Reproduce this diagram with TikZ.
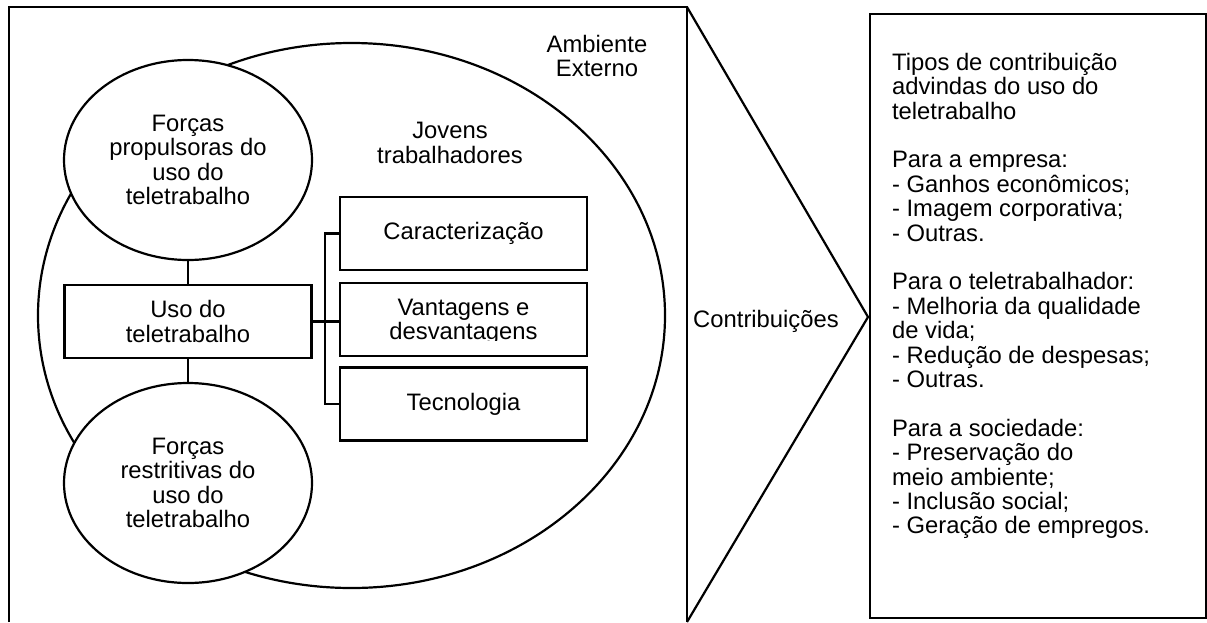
\documentclass[tikz,border=0pt]{standalone}
\usepackage{fontspec}
\setmainfont{Liberation Sans}
\usetikzlibrary{shapes.geometric}
\begin{document}
\begin{tikzpicture}[x=1pt,y=-1pt,
  line width=2.2pt,
  every node/.style={font=\fontsize{23.8}{24.4}\selectfont, inner sep=0pt},
  oval/.style={draw, ellipse, fill=white, minimum width=248pt, minimum height=200pt, align=center},
  box/.style={draw, rectangle, fill=white, minimum width=247pt, minimum height=73pt, align=center},
  caption/.style={align=center}]
\useasboundingbox (0,0) rectangle (1207,622);

% outer frame (open at the bottom) and the arrow head pointing right
\coordinate (fbl) at (9,622);
\coordinate (ftl) at (9,7);
\coordinate (ftr) at (687,7);
\coordinate (fbr) at (687,622);
\coordinate (tip) at (868,317);
\draw (fbl) -- (ftl) -- (ftr) -- (fbr);
\draw (ftr) -- (tip) -- (fbr);

% young workers
\node[draw, ellipse, minimum width=627pt, minimum height=545pt] (jovens) at (351.5,315.5) {};

\node[caption] (amb) at (597,56) {Ambiente\\Externo};
\node[caption] (jovtxt) at (450,143) {Jovens\\trabalhadores};

% forces and use
\node[oval] (prop) at (188,160) {Forças\\propulsoras do\\uso do\\teletrabalho};
\node[oval] (restr) at (188,483) {Forças\\restritivas do\\uso do\\teletrabalho};
\node[box] (uso) at (188,321.5) {Uso do\\teletrabalho};

\draw (prop.south) -- (uso.north);
\draw (uso.south) -- (restr.north);

% aspects
\node[box] (carac) at (463.5,233.5) {Caracterização};
\node[box] (vant) at (463.5,319.5) {};
\begin{scope}
  \clip (340,283) rectangle (587,340.5);
  \node[caption] (vanttxt) at (463.5,322) {Vantagens e\\desvantagens};
\end{scope}
\node[box] (tec) at (463.5,404) {Tecnologia};

\coordinate (brk) at (325,0);
\draw (uso.east) -- (uso.east -| vant.west);
\draw (carac.west) -- (carac.west -| brk) -- (tec.west -| brk) -- (tec.west);

% contributions
\node (contr) at (766,321) {Contribuições};

\node[draw, minimum width=336pt, minimum height=604pt, anchor=north west] (tipos) at (869,13) {};
\node[anchor=north west, align=left] (tipostxt) at (891,52) {%
Tipos de contribuição\\
advindas do uso do\\
teletrabalho\\[24.4pt]
Para a empresa:\\
- Ganhos econômicos;\\
- Imagem corporativa;\\
- Outras.\\[24.4pt]
Para o teletrabalhador:\\
- Melhoria da qualidade\\
de vida;\\
- Redução de despesas;\\
- Outras.\\[24.4pt]
Para a sociedade:\\
- Preservação do\\
meio ambiente;\\
- Inclusão social;\\
- Geração de empregos.};
\end{tikzpicture}
\end{document}
